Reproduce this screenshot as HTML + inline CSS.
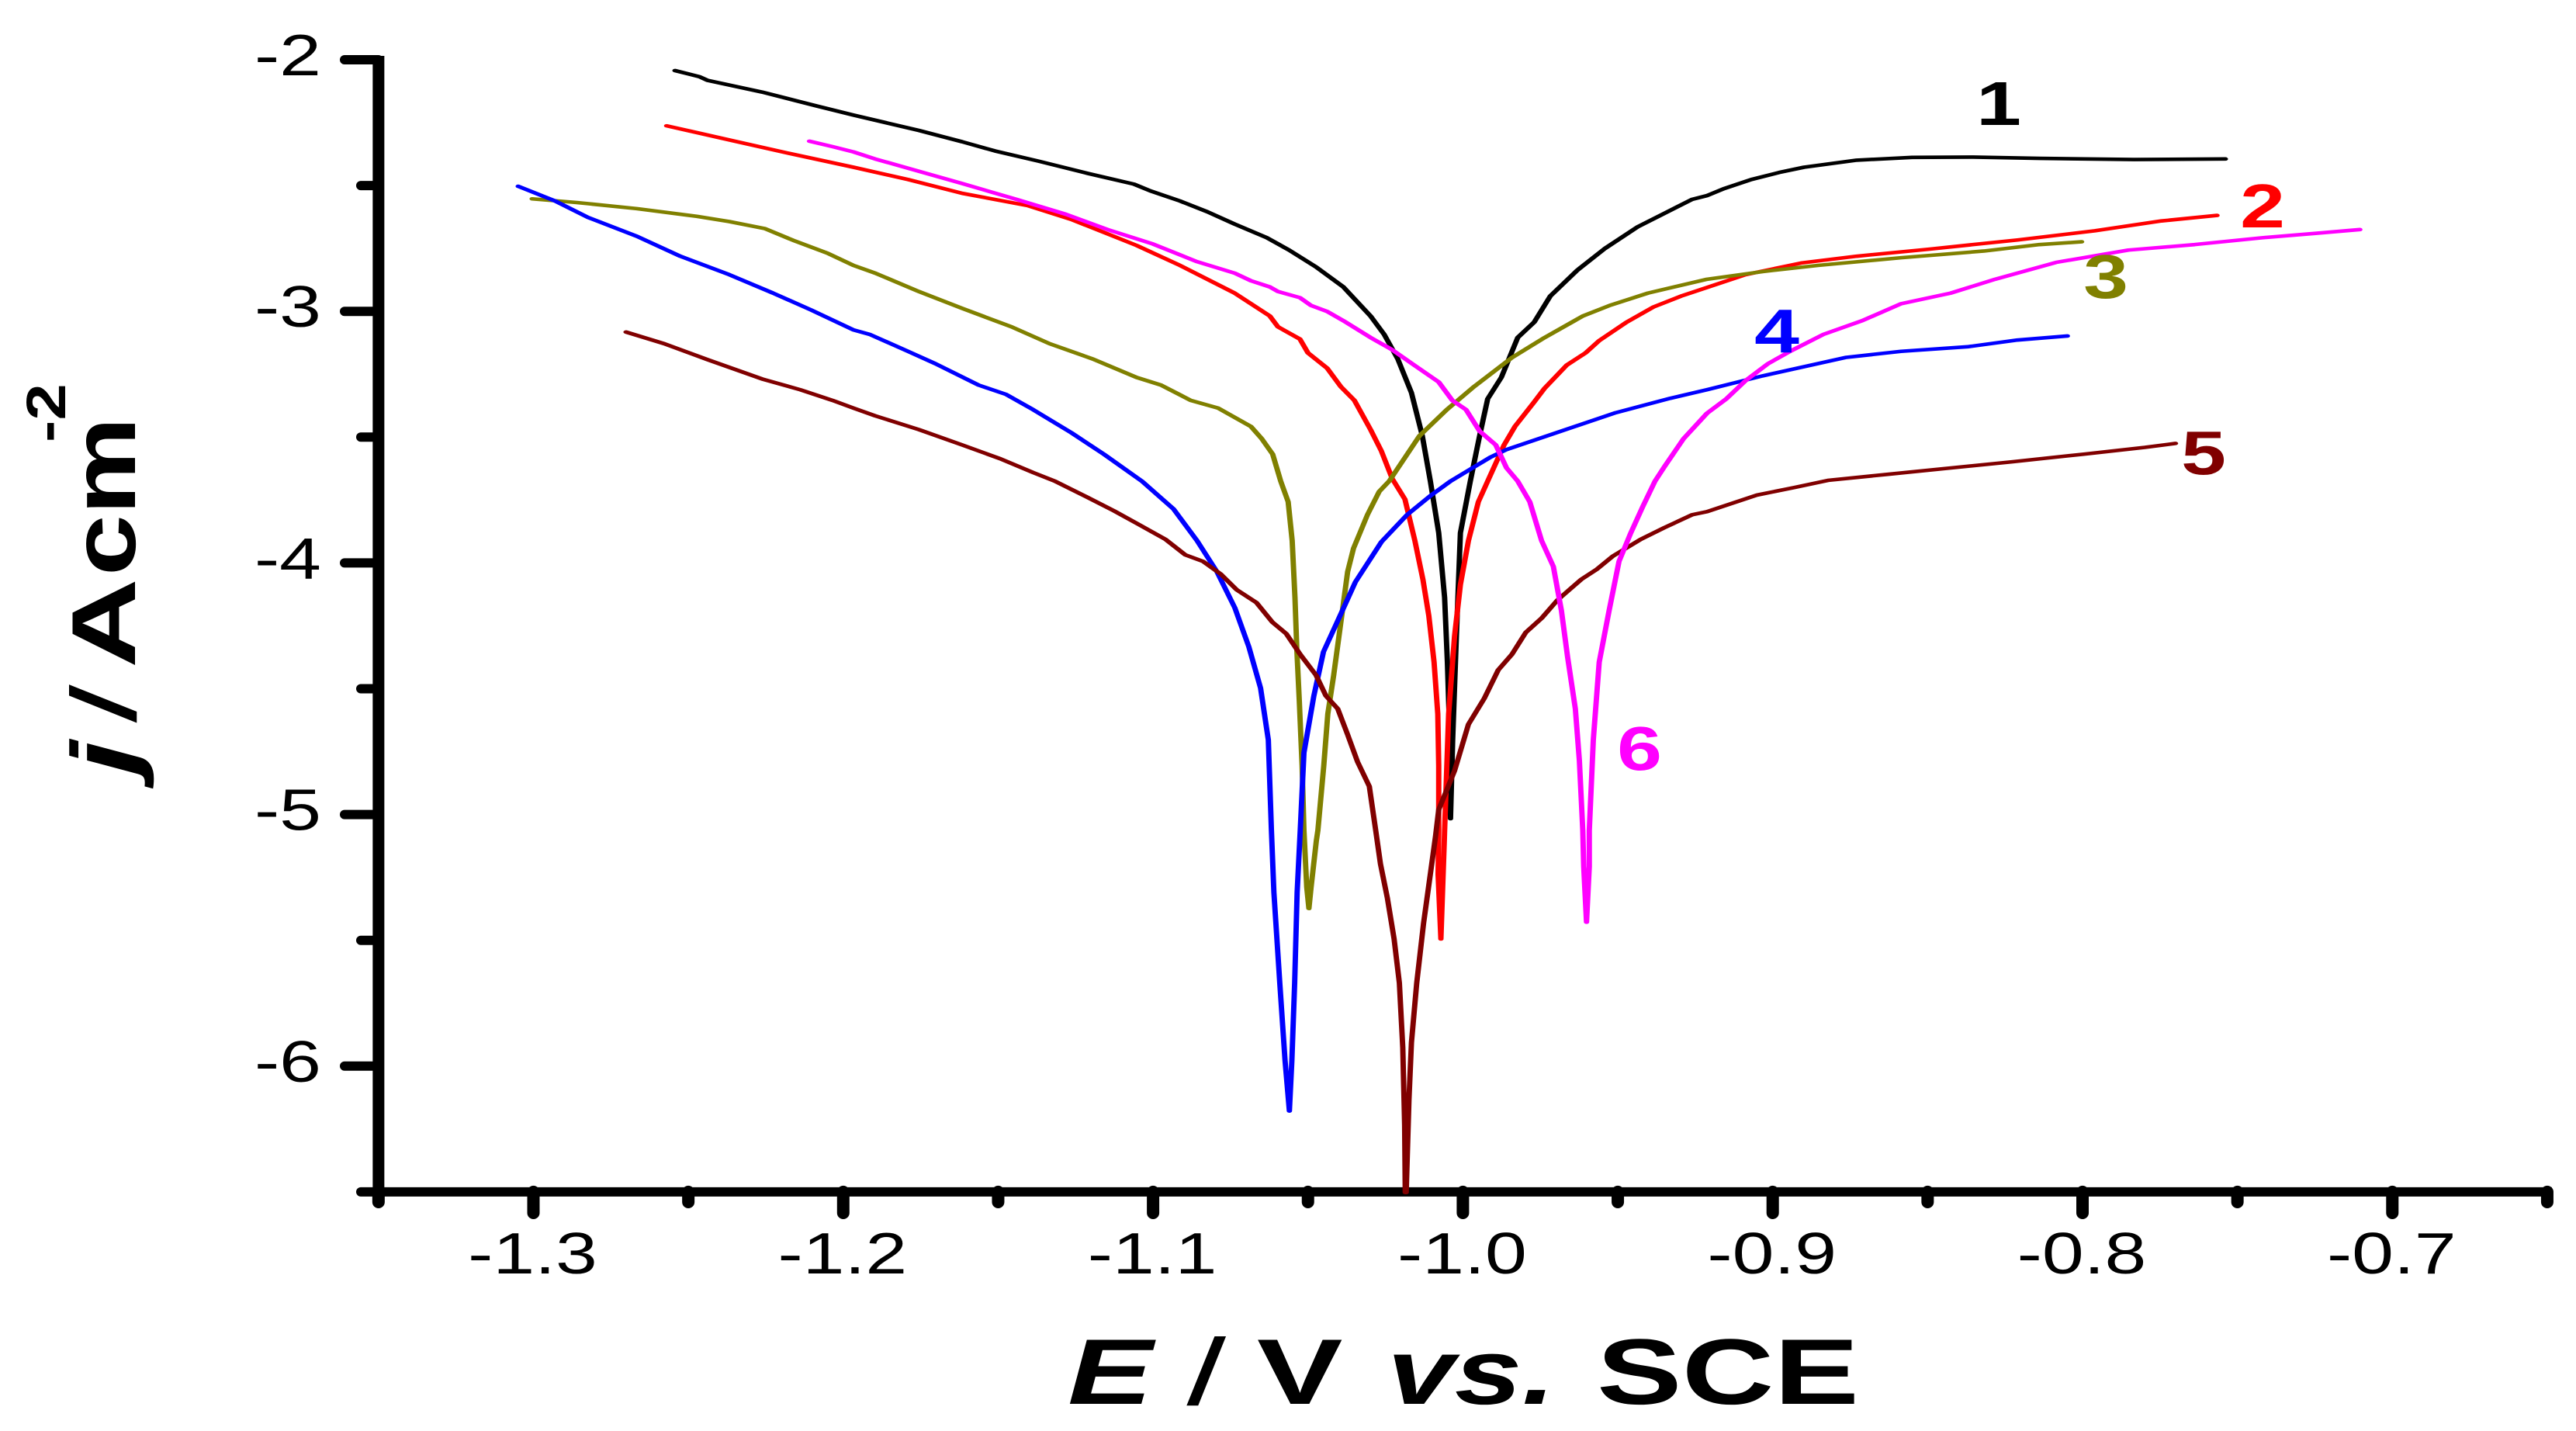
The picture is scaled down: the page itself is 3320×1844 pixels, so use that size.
<!DOCTYPE html>
<html lang="en">
<head>
<meta charset="utf-8">
<title>Polarization curves</title>
<style>
html,body{margin:0;padding:0;background:#fff;}
svg{display:block;}
text{font-family:"Liberation Sans",sans-serif;}
</style>
</head>
<body>
<svg id="chart" xmlns="http://www.w3.org/2000/svg" width="3320" height="1844" viewBox="0 0 3320 1844">
<rect x="0" y="0" width="3320" height="1844" fill="#fff"/>
<g id="axes"></g>
<g id="series" transform="scale(1.5,1)"></g>

<g font-weight="bold" fill="#000">
<text font-style="italic" font-size="117" transform="translate(174,999) rotate(-90) scale(1.37,1)">j</text>
<text font-style="italic" font-size="117" transform="translate(174,927) rotate(-90) scale(1.05,1)">/</text>
<text font-size="117" transform="translate(174,861) rotate(-90) scale(1.37,1)">A</text>
<text font-size="117" transform="translate(174,742) rotate(-90) scale(1.21,1)">cm</text>
<text font-size="71" transform="translate(84,570) rotate(-90) scale(1.2,1)">-2</text>
</g>

<g font-weight="bold" fill="#000" font-size="120">
<text font-style="italic" transform="translate(1376,1809) scale(1.37,1)">E</text>
<text font-style="italic" transform="translate(1534,1809) scale(1.05,1)">/</text>
<text transform="translate(1620,1809) scale(1.38,1)">V</text>
<text font-style="italic" transform="translate(1788,1809) scale(1.3,1)">vs.</text>
<text transform="translate(2058,1809) scale(1.37,1)">SCE</text>
</g>

<g font-weight="bold" font-size="80" text-anchor="middle">
<text fill="#000000" transform="translate(2576,161) scale(1.3,1)">1</text>
<text fill="#ff0000" transform="translate(2916,293) scale(1.3,1)">2</text>
<text fill="#808000" transform="translate(2714,384) scale(1.3,1)">3</text>
<text fill="#0000ff" transform="translate(2290,454) scale(1.3,1)">4</text>
<text fill="#800000" transform="translate(2840,611) scale(1.3,1)">5</text>
<text fill="#ff00ff" transform="translate(2113,992) scale(1.3,1)">6</text>
</g>
</svg>

<script>
const xMajorTicks = [-1.3, -1.2, -1.1, -1.0, -0.9, -0.8, -0.7];
const xMinorTicks = [-1.35, -1.25, -1.15, -1.05, -0.95, -0.85, -0.75, -0.65];
const xTickLabels = ["-1.3", "-1.2", "-1.1", "-1.0", "-0.9", "-0.8", "-0.7"];
const yMajorTicks = [-2, -3, -4, -5, -6];
const yMinorTicks = [-2.5, -3.5, -4.5, -5.5, -6.5];
const yTickLabels = ["-2", "-3", "-4", "-5", "-6"];

const curve1E = [-1.2543,-1.2464,-1.2438,-1.2262,-1.2087,-1.1967,-1.1756,-1.1616,-1.151,-1.137,-1.1211,-1.1062,-1.1009,-1.0913,-1.0825,-1.0737,-1.0632,-1.0561,-1.0474,-1.0386,-1.0298,-1.0254,-1.021,-1.0166,-1.0131,-1.0105,-1.0078,-1.0059,-1.005,-1.0042,-1.004,-1.0033,-1.0021,-1.0008,-0.9976,-0.9946,-0.992,-0.9876,-0.9823,-0.977,-0.9718,-0.963,-0.9542,-0.9437,-0.9349,-0.9261,-0.9212,-0.9158,-0.9069,-0.8979,-0.8899,-0.8729,-0.855,-0.8353,-0.8139,-0.7834,-0.7539];
const curve1J = [-2.043,-2.0674,-2.082,-2.1284,-2.1833,-2.2199,-2.2809,-2.326,-2.3626,-2.4029,-2.4516,-2.4943,-2.5212,-2.5614,-2.6041,-2.6529,-2.7078,-2.7565,-2.8236,-2.9029,-3.0188,-3.0919,-3.1896,-3.3237,-3.4945,-3.675,-3.8805,-4.1376,-4.3946,-4.703,-5.0167,-4.703,-4.2918,-3.8805,-3.675,-3.4945,-3.348,-3.2627,-3.1042,-3.0432,-2.9395,-2.8358,-2.7505,-2.665,-2.6102,-2.5553,-2.54,-2.5126,-2.476,-2.448,-2.4272,-2.3992,-2.3882,-2.387,-2.3919,-2.3967,-2.3943];

const curve2E = [-1.257,-1.235,-1.2174,-1.1967,-1.1791,-1.1616,-1.1405,-1.1264,-1.1053,-1.0913,-1.0737,-1.0623,-1.0597,-1.0526,-1.05,-1.0438,-1.0394,-1.035,-1.0298,-1.0263,-1.0228,-1.0187,-1.0155,-1.0129,-1.011,-1.0093,-1.0081,-1.0078,-1.0078,-1.008,-1.0071,-1.006,-1.0059,-1.0046,-1.0027,-1.0008,-0.9982,-0.995,-0.992,-0.9867,-0.9832,-0.977,-0.9736,-0.9665,-0.9604,-0.956,-0.9472,-0.9384,-0.9296,-0.9212,-0.9087,-0.8908,-0.8729,-0.8496,-0.821,-0.796,-0.7745,-0.7566];
const curve2J = [-2.2626,-2.3236,-2.3724,-2.4272,-2.476,-2.5309,-2.5797,-2.6346,-2.7382,-2.8175,-2.9273,-3.0188,-3.0615,-3.1102,-3.1651,-3.2261,-3.2993,-3.3542,-3.4701,-3.5555,-3.6652,-3.7469,-3.9114,-4.0656,-4.2096,-4.3946,-4.6003,-4.8059,-5.063,-5.2377,-5.4948,-5.1041,-5.063,-4.6003,-4.2918,-4.0861,-3.9114,-3.7571,-3.675,-3.531,-3.4578,-3.3603,-3.3054,-3.2139,-3.1651,-3.1164,-3.0432,-2.9822,-2.9395,-2.905,-2.854,-2.8078,-2.7809,-2.7529,-2.7163,-2.6797,-2.6406,-2.6187];

const curve3E = [-1.3004,-1.286,-1.2666,-1.2473,-1.2368,-1.2253,-1.2157,-1.2051,-1.1967,-1.1897,-1.1756,-1.1616,-1.1457,-1.1334,-1.1194,-1.1053,-1.0974,-1.0878,-1.079,-1.0684,-1.0649,-1.0614,-1.0588,-1.0564,-1.0551,-1.0542,-1.0536,-1.0528,-1.0519,-1.0513,-1.0504,-1.0497,-1.049,-1.0473,-1.0468,-1.0449,-1.0436,-1.0417,-1.0391,-1.0372,-1.0353,-1.0308,-1.027,-1.0238,-1.014,-1.0052,-0.9964,-0.9841,-0.9736,-0.9613,-0.9525,-0.9402,-0.9212,-0.9033,-0.8854,-0.8586,-0.8318,-0.8139,-0.8003];
const curve3J = [-2.5529,-2.5675,-2.5919,-2.6224,-2.6431,-2.6712,-2.72,-2.7687,-2.8175,-2.848,-2.9212,-2.9883,-3.0615,-3.1286,-3.1896,-3.2627,-3.2932,-3.3542,-3.3847,-3.4579,-3.5067,-3.5677,-3.675,-3.7571,-3.9114,-4.1376,-4.3432,-4.5488,-4.8059,-5.063,-5.2891,-5.3734,-5.2891,-5.1041,-5.063,-4.8059,-4.6003,-4.446,-4.2096,-4.0347,-3.9422,-3.8085,-3.716,-3.675,-3.4945,-3.3908,-3.2993,-3.1834,-3.1042,-3.0188,-2.9761,-2.9273,-2.8724,-2.8419,-2.8175,-2.787,-2.7602,-2.7346,-2.7236];

const curve4E = [-1.3049,-1.293,-1.2825,-1.2666,-1.2526,-1.2368,-1.2227,-1.2104,-1.1967,-1.1914,-1.1791,-1.1703,-1.1563,-1.1475,-1.1387,-1.1264,-1.1159,-1.1036,-1.0934,-1.0858,-1.0794,-1.0736,-1.0691,-1.0653,-1.0628,-1.0618,-1.061,-1.0591,-1.0574,-1.056,-1.0552,-1.0543,-1.0535,-1.0525,-1.0513,-1.0481,-1.045,-1.0404,-1.0347,-1.0263,-1.018,-1.0103,-1.004,-0.9911,-0.9859,-0.9683,-0.9507,-0.9331,-0.9212,-0.9033,-0.8765,-0.8586,-0.8371,-0.821,-0.8049];
const curve4J = [-2.5029,-2.5614,-2.626,-2.7017,-2.7809,-2.8541,-2.9273,-2.9944,-3.0737,-3.0919,-3.159,-3.2078,-3.2932,-3.3298,-3.3908,-3.4823,-3.5677,-3.675,-3.7856,-3.9117,-4.0347,-4.1787,-4.333,-4.4974,-4.7031,-5.063,-5.3097,-5.6696,-5.978,-6.1785,-5.978,-5.6696,-5.3097,-5.063,-4.7545,-4.5283,-4.3535,-4.23,-4.0759,-3.9165,-3.8085,-3.7315,-3.675,-3.5796,-3.5493,-3.4762,-3.403,-3.3457,-3.3115,-3.2566,-3.1834,-3.159,-3.1408,-3.114,-3.098];

const curve5E = [-1.2701,-1.2578,-1.2438,-1.2262,-1.2139,-1.2034,-1.1967,-1.1897,-1.1756,-1.1616,-1.1493,-1.1387,-1.1317,-1.1216,-1.1126,-1.105,-1.096,-1.0896,-1.0839,-1.0781,-1.073,-1.0666,-1.0615,-1.057,-1.0525,-1.0474,-1.0442,-1.0404,-1.0372,-1.034,-1.0302,-1.0282,-1.0266,-1.0244,-1.0222,-1.0205,-1.0194,-1.0188,-1.0186,-1.0183,-1.0174,-1.0166,-1.0149,-1.0127,-1.0104,-1.0088,-1.0078,-1.0027,-0.9982,-0.9931,-0.9886,-0.9842,-0.9797,-0.9746,-0.9695,-0.9618,-0.9567,-0.9516,-0.9426,-0.935,-0.926,-0.9212,-0.905,-0.893,-0.8819,-0.8622,-0.8425,-0.8228,-0.7996,-0.7799,-0.77];
const curve5J = [-3.0822,-3.1286,-3.192,-3.2688,-3.3115,-3.3542,-3.3847,-3.4152,-3.47,-3.5311,-3.586,-3.6408,-3.675,-3.7366,-3.7931,-3.8445,-3.9062,-3.9679,-3.9936,-4.045,-4.1067,-4.1581,-4.2353,-4.2815,-4.3638,-4.446,-4.5283,-4.5797,-4.6825,-4.7905,-4.8882,-5.0578,-5.1966,-5.3303,-5.4948,-5.6696,-5.9266,-6.2351,-6.5023,-6.5023,-6.1322,-5.906,-5.6696,-5.4331,-5.2274,-5.0835,-4.9807,-4.8264,-4.6414,-4.5386,-4.4255,-4.3638,-4.2764,-4.2198,-4.1479,-4.0656,-4.0245,-3.973,-3.9062,-3.86,-3.8085,-3.7962,-3.73,-3.7,-3.6713,-3.647,-3.6225,-3.5981,-3.5676,-3.5408,-3.525];

const curve6E = [-1.2109,-1.2034,-1.1967,-1.1897,-1.1791,-1.1616,-1.144,-1.1282,-1.1141,-1.1001,-1.086,-1.0737,-1.0684,-1.0623,-1.0597,-1.0526,-1.0491,-1.0438,-1.0386,-1.0298,-1.0228,-1.0157,-1.0078,-1.0034,-0.999,-0.9946,-0.9894,-0.9859,-0.9823,-0.9784,-0.9746,-0.9708,-0.9682,-0.9662,-0.9637,-0.9624,-0.9613,-0.961,-0.9601,-0.9592,-0.9592,-0.9579,-0.956,-0.9528,-0.9496,-0.9458,-0.942,-0.938,-0.9349,-0.9288,-0.9212,-0.915,-0.9087,-0.9015,-0.8944,-0.8837,-0.8711,-0.8586,-0.8425,-0.8282,-0.8085,-0.7852,-0.7638,-0.7423,-0.7244,-0.7105];
const curve6J = [-2.3236,-2.3455,-2.3663,-2.3943,-2.4309,-2.4919,-2.5553,-2.6138,-2.6773,-2.7321,-2.8017,-2.848,-2.8785,-2.903,-2.9212,-2.9456,-2.9761,-3.0005,-3.037,-3.1042,-3.153,-3.214,-3.281,-3.3542,-3.3908,-3.4762,-3.531,-3.6225,-3.675,-3.7571,-3.9114,-4.0142,-4.189,-4.3741,-4.5797,-4.7853,-5.063,-5.2069,-5.428,-5.2069,-5.063,-4.7031,-4.3946,-4.189,-3.9936,-3.8805,-3.7777,-3.675,-3.6165,-3.5067,-3.405,-3.3481,-3.2749,-3.2079,-3.159,-3.092,-3.037,-2.97,-2.9273,-2.8724,-2.8053,-2.7565,-2.7346,-2.7078,-2.6895,-2.6749];

const SVG_NS = "http://www.w3.org/2000/svg";
const xLeftValue = -1.35;
const xRightValue = -0.65;
const yTopValue = -2;
const yBottomValue = -6.5;
const strokeStretch = 1.5;

function xScale(v) { return 687.5 + (v + 1.3) * 3993; }
function yScale(v) { return 77 + (-2 - v) * 324.2; }

const axes = document.getElementById("axes");
const seriesGroup = document.getElementById("series");

function drawLine(parent, x1, y1, x2, y2, width, cap, name) {
  const el = document.createElementNS(SVG_NS, "line");
  el.setAttribute("x1", x1);
  el.setAttribute("y1", y1);
  el.setAttribute("x2", x2);
  el.setAttribute("y2", y2);
  el.setAttribute("stroke", "#000");
  el.setAttribute("stroke-width", width);
  el.setAttribute("stroke-linecap", cap);
  
  
  parent.appendChild(el);
}

function drawLabel(parent, x, y, content, anchor, name) {
  const el = document.createElementNS(SVG_NS, "text");
  el.setAttribute("transform", "translate(" + x + "," + y + ") scale(1.29,1)");
  el.setAttribute("text-anchor", anchor);
  el.setAttribute("font-size", "75");
  el.setAttribute("fill", "#000");
  el.textContent = content;
  
  
  parent.appendChild(el);
}

xMajorTicks.forEach(function (v, i) {
  drawLine(axes, xScale(v), yScale(yBottomValue), xScale(v), 1563, 16, "round", "x-major-tick");
  drawLabel(axes, xScale(v) - 1, 1641, xTickLabels[i], "middle", "x-tick-label");
});
xMinorTicks.forEach(function (v) {
  drawLine(axes, xScale(v), yScale(yBottomValue), xScale(v), 1549, 16, "round", "x-minor-tick");
});
yMajorTicks.forEach(function (v, i) {
  drawLine(axes, xScale(xLeftValue), yScale(v), 444, yScale(v), 12, "round", "y-major-tick");
  drawLabel(axes, 414, yScale(v) + 20, yTickLabels[i], "end", "y-tick-label");
});
yMinorTicks.forEach(function (v) {
  drawLine(axes, xScale(xLeftValue), yScale(v), 465, yScale(v), 12, "round", "y-minor-tick");
});
drawLine(axes, xScale(xLeftValue), yScale(yTopValue) - 5, xScale(xLeftValue), yScale(yBottomValue) + 6, 15, "butt", "y-axis-line");
drawLine(axes, xScale(xLeftValue), yScale(yBottomValue), xScale(xRightValue) + 6, yScale(yBottomValue), 12, "butt", "x-axis-line");

function drawCurve(es, js, color, name) {
  const el = document.createElementNS(SVG_NS, "polyline");
  const pts = es.map(function (e, i) {
    return (xScale(e) / strokeStretch).toFixed(2) + "," + yScale(js[i]).toFixed(2);
  });
  el.setAttribute("points", pts.join(" "));
  el.setAttribute("fill", "none");
  el.setAttribute("stroke", color);
  el.setAttribute("stroke-width", "4.6");
  el.setAttribute("stroke-linejoin", "round");
  el.setAttribute("stroke-linecap", "round");
  
  
  seriesGroup.appendChild(el);
}

drawCurve(curve1E, curve1J, "#000000", "curve-1");
drawCurve(curve2E, curve2J, "#ff0000", "curve-2");
drawCurve(curve3E, curve3J, "#808000", "curve-3");
drawCurve(curve4E, curve4J, "#0000ff", "curve-4");
drawCurve(curve5E, curve5J, "#800000", "curve-5");
drawCurve(curve6E, curve6J, "#ff00ff", "curve-6");
</script>
</body>
</html>
